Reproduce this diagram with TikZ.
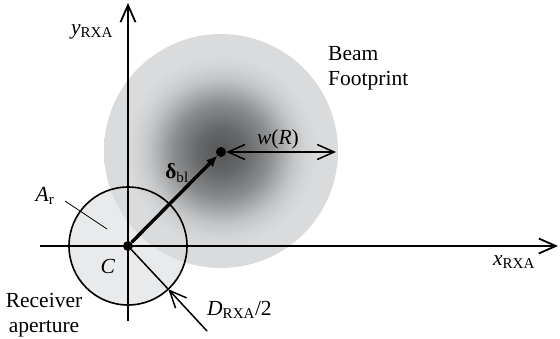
\documentclass[tikz,border=0pt]{standalone}
\usepackage{fontspec}
\setmainfont{Liberation Serif}
\usetikzlibrary{arrows.meta}
\definecolor{beamcore}{RGB}{84,85,87}
\definecolor{beamedge}{RGB}{218,219,221}
\definecolor{rxfill}{RGB}{233,234,236}
\pgfdeclareradialshading{beamshade}{\pgfpointorigin}{%
  color(0bp)=(beamcore);
  color(5bp)=(beamcore!86!beamedge);
  color(10bp)=(beamcore!60!beamedge);
  color(13bp)=(beamcore!36!beamedge);
  color(15.5bp)=(beamcore!17!beamedge);
  color(18bp)=(beamcore!6!beamedge);
  color(20.5bp)=(beamedge);
  color(50bp)=(beamedge)}

\begin{document}
\begin{tikzpicture}[x=1pt, y=-1pt,
    font=\fontsize{21.5}{25}\selectfont,
    axis/.style={line width=1.8pt, -{Straight Barb[length=17pt,width=15pt]}},
    ring/.style={circle, minimum size=118pt, inner sep=0pt, outer sep=0pt},
    dot/.style={circle, fill=black, minimum size=10pt, inner sep=0pt},
    vec/.style={line width=3.4pt, -{Latex[length=11pt,width=10pt]}},
    dim/.style={line width=1.5pt, {Straight Barb[length=17pt,width=15pt]}-{Straight Barb[length=17pt,width=15pt]}},
    pointer/.style={line width=1.5pt, -{Straight Barb[length=17pt,width=15pt]}},
    txt/.style={inner sep=0pt}
]
\useasboundingbox (0,0) rectangle (560,338);
% receiver area below the beam
\node[ring, fill=rxfill] (rx) at (128,246) {};
\node[circle, minimum size=234pt, inner sep=0pt, shade, shading=beamshade] (beam) at (221,151) {};
% axes
\coordinate (xl) at (40,246);
\coordinate (xr) at (558,246);
\coordinate (yb) at (128,321);
\coordinate (yt) at (128,3);
\draw[axis] (xl) -- (xr);
\draw[axis] (yb) -- (yt);
\node[ring, draw, line width=1.6pt] (rxring) at (rx) {};
% centres
\node[dot] (C) at (rx) {};
\node[dot] (B) at (221,152) {};
\draw[vec] (C) -- (B);
\coordinate (wend) at (336,152);
\draw[dim] (B) -- (wend);
% radius
\coordinate (dfar) at (207,331);
\draw[line width=1.5pt] (C) -- (rx.-47);
\draw[pointer] (dfar) -- (rx.-47);
% leader for the area
\coordinate (arfrom) at (65,201);
\coordinate (arto) at (107,229);
\draw[line width=0.8pt] (arfrom) -- (arto);
% labels
\node[txt] (ylab) at (92,32) {\textit{y}\textsubscript{RXA}};
\node[txt] (xlab) at (514,262) {\textit{x}\textsubscript{RXA}};
\node[txt, anchor=west, align=left] (beamlab) at (328,68) {Beam\\Footprint};
\node[txt, align=center] (rxlab) at (44,315) {Receiver\\aperture};
\node[txt] (arlab) at (45,196) {\textit{A}\textsubscript{r}};
\node[txt] (clab) at (108,266) {\textit{C}};
\node[txt] (dlab) at (177,173) {\textbf{δ}\textsubscript{bl}};
\node[txt] (wlab) at (278,139) {\textit{w}(\textit{R})};
\node[txt, anchor=base west] (rlab) at (207,315) {\textit{D}\textsubscript{RXA}/2};
\end{tikzpicture}
\end{document}
